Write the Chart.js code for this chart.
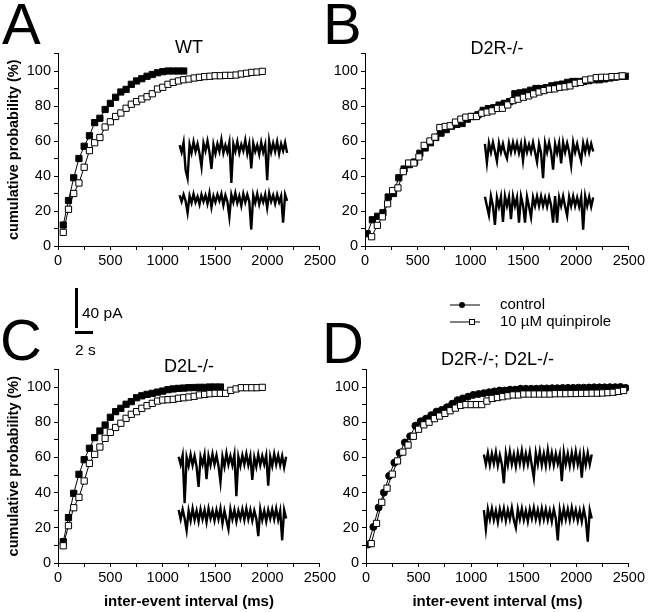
<!DOCTYPE html>
<html>
<head>
<meta charset="utf-8">
<script src="https://cdn.jsdelivr.net/npm/chart.js@4.4.0/dist/chart.umd.min.js"></script>
<style>
  body { margin: 0; background: #fff; width: 648px; height: 612px; position: relative; overflow: hidden;
         font-family: "Liberation Sans", Arial, Helvetica, sans-serif; color: #000; }
  canvas { position: absolute; }
  .letter { position: absolute; font-size: 58px; line-height: 58px; }
  .bar { position: absolute; background: #000; }
  .barlabel { position: absolute; font-size: 15.5px; line-height: 15.5px; white-space: nowrap; }
</style>
</head>
<body>
<canvas id="panelA" width="338" height="290" style="left:0;top:0"></canvas>
<canvas id="panelB" width="327" height="290" style="left:320px;top:0"></canvas>
<canvas id="panelC" width="338" height="322" style="left:0;top:290px"></canvas>
<canvas id="panelD" width="327" height="322" style="left:320px;top:290px"></canvas>

<div class="letter" style="left:2px;top:-5px">A</div>
<div class="letter" style="left:323px;top:-5px">B</div>
<div class="letter" style="left:0;top:311px">C</div>
<div class="letter" style="left:322px;top:314px">D</div>

<!-- scale bar for the current traces -->
<div class="bar" style="left:75px;top:288px;width:3px;height:40px"></div>
<div class="barlabel" style="left:82px;top:305px">40 pA</div>
<div class="bar" style="left:75px;top:331px;width:18px;height:3px"></div>
<div class="barlabel" style="left:75px;top:342px">2 s</div>

<script>
// ---- data (inter-event interval in ms, cumulative probability in %) ----

// A: WT
const xA = [50,100,150,200,250,300,350,400,450,500,550,600,650,700,750,800,850,900,950,1000,
            1050,1100,1150,1200,1250,1300,1350,1400,1450,1500,1550,1600,1650,1700,1750,1800,1850,1900,1950];
const controlA = [12,26,39,50,57,63,70.5,73,78,81.5,85,88,89.5,92.4,94.3,95.6,97,98,99,99.6,100,100,100,100];
const quinA = [7.8,21,30,36,45,54.5,59,62,68,71,74,76,78.7,81,82.5,84,85.3,87,89.7,90.7,
               92.4,93.5,94.3,95,95.4,96,96.4,96.8,97,97.3,97.3,97.5,97.5,97.7,98.3,98.7,99.2,99.4,99.8];

// B: D2R-/-
const xB_control = [20,70,120,170,220,270,320,370,420,470,520,570,620,670,720,770,820,870,920,970,
                    1020,1070,1120,1170,1220,1270,1320,1370,1420,1470,1520,1570,1620,1670,1720,1770,1820,1870,1920,1970,
                    2020,2070,2120,2170,2220,2270,2320,2370,2420,2470];
const controlB = [7,15,17,19,28,30,39,44,46.5,48,53,56,59,62,64.5,66.5,68.5,69.5,70,72.5,
                  74,75,77.5,78.5,79,80.5,81.5,82.5,87,87.5,88,89,90,90,90.5,91.5,92,92.5,93.5,94,
                  94,94,94.5,95,95,95.5,96,96.5,97,97];
const xB_quin = [63,117,164,214,262,312,363,413,463,511,561,615,662,709,760,807,857,908,955,1006,
                 1056,1107,1157,1204,1255,1302,1352,1403,1450,1501,1551,1598,1649,1696,1747,1797,1844,1895,1942,1992,
                 2040,2090,2140,2191,2241,2289,2339,2390,2437];
const quinB = [5.3,11.8,16.7,24.1,31.7,33.2,42.5,47.4,47.4,50.9,57.5,60,62.2,67.7,68.3,68.7,70.8,72.5,73.6,74,
               74,75.9,76.5,77.2,78.6,78.7,80.6,83.1,83.9,85,85.8,86.9,88,88.8,89.6,89.8,90.7,91,91.5,93,
               93.5,94.9,95.4,96.2,96.4,96.4,96.8,96.8,97.2];

// C: D2L-/-
const xC = xA;
const controlC = [12.1,25.8,39.6,50.4,58.7,65.2,71.2,75,78.4,82.8,86,87.9,90.2,91.7,93.9,95,95.8,96.4,97.1,97.7,
                  98.5,98.9,99.2,99.4,99.6,99.7,99.8,99.8,100,100,100];
const quinC = [9.8,21.2,31.4,37.3,46.6,56.6,61.7,65.9,70.8,74.2,77,79.4,82.2,84.5,86,87.9,89.4,90.7,92,92.6,
               92.8,93,93.6,93.9,94.3,94.7,95.5,95.8,96.2,96.4,96.4,96.4,98.1,98.9,99.6,99.6,99.6,99.6,99.8];

// D: D2R-/-; D2L-/-
const xD_control = xB_control;
const controlD = [10.5,20.5,31.5,40,49.5,57,62.5,68.5,72,78,80.5,82,84,86,87,88.5,90.5,92.5,93.5,94.5,
                  95.5,96,96.5,97,97.5,98,98,98.5,98.5,99,99,99,99,99.2,99.2,99.3,99.3,99.4,99.5,99.5,
                  99.6,99.6,99.7,99.8,99.8,99.8,99.9,99.9,100,99.5];
const xD_quin = [50,100,150,200,250,300,350,400,450,500,550,600,650,700,750,800,850,900,950,1000,
                 1050,1100,1150,1200,1250,1300,1350,1400,1450,1500,1550,1600,1650,1700,1750,1800,1850,1900,1950,2000,
                 2050,2100,2150,2200,2250,2300,2350,2400,2450];
const quinD = [11,22.5,34.5,42.5,50.5,58,63,67,72,76,78.5,80,82,83.5,85,86.5,88,89.5,90,90,
               90,90,92,93.5,94,94.5,95,95.5,95.5,96,96,96,96,96,96,96.2,96.2,96.2,96.3,96.3,
               96.4,96.4,96.5,96.5,96.6,96.8,97,97.5,98];

// example current traces (upper: control, lower: quinpirole), relative amplitude per sample
const traceA1 = [4,-6,8,-31,-43,5,-7,9,-5,6,-8,-27,7,-4,10,-6,-30,5,-8,6,-5,12,-7,4,-6,8,-50,6,-5,9,-7,5,-4,11,-8,6,-29,7,-5,4,-9,8,-6,5,-46,10,-6,7,-5,9,-8,6,-4,8,-7];
const traceA2 = [5,-4,6,-3,-20,4,-6,7,-5,3,-8,6,-4,5,-7,8,-12,4,-5,6,-3,7,-9,5,-4,-26,6,-5,8,-6,4,-10,7,-5,6,-4,-44,5,-6,7,-8,4,-5,6,-13,8,-4,5,-7,6,-5,4,-34,6,-3];
const traceB1 = [6,-21,7,-6,8,-5,-19,7,-6,6,-7,-15,7,-6,8,-5,7,-7,6,-18,8,-6,5,-6,8,-6,-20,6,-7,-43,7,-6,8,-6,-31,6,-7,7,-22,8,-6,7,-5,-25,8,-6,6,-7,-18,7,-6,8,-6,6,-5];
const traceB2 = [7,-6,-19,8,-6,-33,6,-7,7,-29,8,-6,7,-25,8,-6,6,-30,8,-5,-30,7,-7,-22,6,-6,8,-6,8,-6,6,-7,7,-5,-30,8,-30,6,-6,8,-7,-20,7,-6,8,-6,6,-7,7,-40,8,-6,7,-7,6];
const traceC1 = [6,-5,8,-60,5,-7,9,-6,7,-8,-37,6,-5,9,-26,7,-6,10,-5,8,-7,-30,6,-8,11,-5,7,-6,9,-50,6,-7,8,-5,10,-6,7,-27,5,-8,9,-6,7,-5,8,-35,6,-7,10,-5,8,-6,7,-9,6];
const traceC2 = [7,-6,8,-5,-22,6,-8,9,-7,6,-9,8,-6,7,-10,9,-5,6,-8,7,-6,9,-12,6,-7,-20,8,-6,7,-9,6,-5,8,-7,9,-6,7,-8,6,-5,-30,8,-7,6,-9,7,-5,8,-6,9,-7,6,-36,7,-5];
const traceD1 = [8,-6,10,-7,9,-5,11,-8,7,-6,-33,9,-7,12,-6,8,-9,10,-5,13,-7,9,-6,11,-8,-25,10,-6,12,-7,9,-8,14,-6,10,-7,9,-5,8,-30,11,-6,9,-8,10,-7,12,-6,8,-25,9,-7,10,-6,8];
const traceD2 = [7,-20,8,-6,9,-7,6,-10,8,-5,9,-8,7,-6,10,-7,-18,8,-6,9,-7,6,-9,8,-5,10,-6,7,-8,9,-6,8,-7,6,-9,8,-5,-36,7,-8,9,-6,8,-7,10,-5,7,-8,6,-9,8,-6,-38,7,-5];

const yTicks = [0,20,40,60,80,100];
const xTicks = [0,500,1000,1500,2000,2500];

// ---- layout ----
const FONT = '"Liberation Sans", Arial, Helvetica, sans-serif';
const TRACE_STEP = 19;    // ms of x axis per trace sample
const TRACE_GAIN = 0.4;   // % of y axis per trace unit

function pairs(xs, ys) {
  return ys.map((y, i) => ({ x: xs[i], y: y }));
}

function traceData(values, place) {
  return values.map((v, i) => ({ x: place.x0 + i * TRACE_STEP, y: place.y0 + v * TRACE_GAIN }));
}

// legend drawn in the gap above panel D
const sideLegend = {
  id: 'sideLegend',
  afterDraw(chart) {
    const ctx = chart.ctx;
    ctx.save();
    ctx.strokeStyle = '#000';
    ctx.lineWidth = 1;
    ctx.fillStyle = '#000';
    ctx.font = '15px ' + FONT;
    ctx.textBaseline = 'middle';
    // control
    ctx.beginPath(); ctx.moveTo(130, 15); ctx.lineTo(160, 15); ctx.stroke();
    ctx.beginPath(); ctx.arc(142, 15, 3, 0, Math.PI * 2); ctx.fill();
    ctx.fillText('control', 180, 15);
    // quinpirole
    ctx.beginPath(); ctx.moveTo(130, 32); ctx.lineTo(160, 32); ctx.stroke();
    ctx.fillStyle = '#fff';
    ctx.fillRect(149, 29, 6, 6);
    ctx.strokeRect(149.5, 29.5, 5, 5);
    ctx.fillStyle = '#000';
    ctx.fillText('10 \u00B5M quinpirole', 180, 32);
    ctx.restore();
  }
};

function makePanel(id, p) {
  const datasets = [
    {
      label: '10 \u00B5M quinpirole',
      data: pairs(p.quinX, p.quin),
      showLine: true, borderColor: '#000', borderWidth: 1,
      pointStyle: 'rect', pointRadius: 4.4,
      pointBackgroundColor: '#fff', pointBorderColor: '#000', pointBorderWidth: 1
    },
    {
      label: 'control',
      data: pairs(p.ctlX, p.ctl),
      showLine: true, borderColor: '#000', borderWidth: 1,
      pointStyle: p.ctlStyle, pointRadius: p.ctlStyle === 'circle' ? 3.5 : 4.4,
      pointBackgroundColor: '#000', pointBorderColor: '#000', pointBorderWidth: 1
    }
  ];
  p.traces.forEach((t, k) => {
    datasets.push({
      label: 'trace' + k,
      data: traceData(t, p.place[k]),
      showLine: true, borderColor: '#000', borderWidth: 2.4, pointRadius: 0
    });
  });

  new Chart(document.getElementById(id), {
    type: 'scatter',
    data: { datasets: datasets },
    plugins: p.legend ? [sideLegend] : [],
    options: {
      responsive: false,
      animation: false,
      devicePixelRatio: 1,
      events: [],
      layout: { padding: { left: 0, right: 18, top: 0, bottom: 0 } },
      plugins: {
        legend: { display: false },
        tooltip: { enabled: false },
        title: {
          display: true,
          text: p.title,
          color: '#000',
          fullSize: false,
          font: { family: FONT, size: 18, weight: 'normal', lineHeight: 1 },
          padding: p.titlePad
        }
      },
      scales: {
        x: {
          type: 'linear', min: 0, max: 2500,
          border: { color: '#000', width: 1 },
          grid: { drawOnChartArea: false, drawTicks: true, tickLength: 4, color: '#000' },
          ticks: {
            stepSize: 250, autoSkip: false, maxRotation: 0, padding: 2, color: '#000',
            font: { family: FONT, size: 14.5 },
            callback: v => xTicks.includes(v) ? String(v) : ''
          },
          title: {
            display: p.xTitle, text: 'inter-event interval (ms)', color: '#000',
            font: { family: FONT, size: 15, weight: 'bold' }, padding: { top: 0, bottom: 1 }
          },
          afterFit: s => { s.height = p.xHeight; }
        },
        y: {
          type: 'linear', min: 0, max: 110,
          border: { color: '#000', width: 1 },
          grid: { drawOnChartArea: false, drawTicks: true, tickLength: 4, color: '#000' },
          ticks: {
            stepSize: 10, autoSkip: false, padding: 3, color: '#000',
            font: { family: FONT, size: 14.5 },
            callback: v => yTicks.includes(v) ? String(v) : ''
          },
          title: {
            display: p.yTitle, text: 'cumulative probability (%)', color: '#000',
            font: { family: FONT, size: 14.5, weight: 'bold' }, padding: { top: 5, bottom: 0 }
          },
          afterFit: s => { s.width = p.yWidth; }
        }
      }
    }
  });
}

makePanel('panelA', {
  title: 'WT', titlePad: { top: 39.5, bottom: -4 },
  quinX: xA, quin: quinA, ctlX: xA, ctl: controlA, ctlStyle: 'rect',
  traces: [traceA1, traceA2], place: [{ x0: 1161, y0: 56 }, { x0: 1161, y0: 27 }],
  yTitle: true, xTitle: false, yWidth: 58, xHeight: 44
});
makePanel('panelB', {
  title: 'D2R-/-', titlePad: { top: 40, bottom: -4.5 },
  quinX: xB_quin, quin: quinB, ctlX: xB_control, ctl: controlB, ctlStyle: 'rect',
  traces: [traceB1, traceB2], place: [{ x0: 1136, y0: 56 }, { x0: 1136, y0: 25.3 }],
  yTitle: false, xTitle: false, yWidth: 45, xHeight: 44
});
makePanel('panelC', {
  title: 'D2L-/-', titlePad: { top: 68, bottom: -6.6 },
  quinX: xC, quin: quinC, ctlX: xC, ctl: controlC, ctlStyle: 'rect',
  traces: [traceC1, traceC2], place: [{ x0: 1152, y0: 58 }, { x0: 1152, y0: 27.3 }],
  yTitle: true, xTitle: true, yWidth: 58, xHeight: 49
});
makePanel('panelD', {
  title: 'D2R-/-; D2L-/-', titlePad: { top: 61, bottom: 0.4 },
  quinX: xD_quin, quin: quinD, ctlX: xD_control, ctl: controlD, ctlStyle: 'circle',
  traces: [traceD1, traceD2], place: [{ x0: 1121, y0: 58.5 }, { x0: 1121, y0: 27.3 }],
  yTitle: false, xTitle: true, yWidth: 46, xHeight: 49, legend: true
});
</script>
</body>
</html>
